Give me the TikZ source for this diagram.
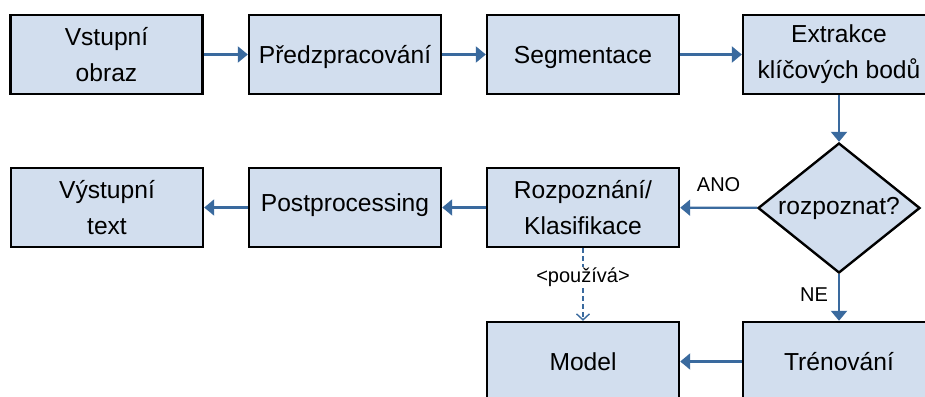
\documentclass[tikz,border=0pt]{standalone}
\usepackage{fontspec}
\setmainfont{Liberation Sans}
\usetikzlibrary{shapes.geometric,arrows.meta}
\definecolor{boxfill}{HTML}{D2DEEE}
\definecolor{arrblue}{HTML}{3A6A9E}
\begin{document}
\begin{tikzpicture}[x=1pt,y=-1pt,
  box/.style={draw=black, line width=2.4pt, fill=boxfill, minimum width=192pt, minimum height=79pt,
    inner sep=0pt, align=center, font=\fontsize{24.6}{36}\selectfont},
  one/.style={text height=17.6pt, text depth=0pt},
  dec/.style={diamond, draw=black, line width=2.4pt, fill=boxfill, minimum width=162pt,
    minimum height=130pt, aspect=1.246, inner sep=0pt, font=\fontsize{24.6}{36}\selectfont},
  arr/.style={draw=arrblue, line width=2.2pt, -{Triangle[length=10pt,width=16pt]}},
  dep/.style={draw=arrblue, line width=1.6pt, dash pattern=on 5pt off 3pt,
    -{Straight Barb[length=6pt,width=13pt,line width=1.4pt]}},
  lbl/.style={font=\fontsize{20}{24}\selectfont, inner sep=1pt}]
\useasboundingbox (0,0) rectangle (925,396);
\clip (0,0) rectangle (925,396);

\node[box] (in) at (106.5,54.5) {Vstupní\\obraz};
\node[box,one] (pre) at (345,54.5) {Předzpracování};
\node[box,one] (seg) at (583,54.5) {Segmentace};
\node[box] (ext) at (839,54.5) {Extrakce\\klíčových bodů};

\node[box] (out) at (107,207.5) {Výstupní\\text};
\node[box,one] (post) at (345,207.5) {\raisebox{5pt}{Postprocessing}};
\node[box] (rec) at (583,207.5) {Rozpoznání/\\Klasifikace};
\node[dec] (dia) at (839,208) {rozpoznat?};

\node[box,one] (model) at (583,361.5) {Model};
\node[box,one] (train) at (839,361.5) {Trénování};

\draw[arr] (in) -- (pre);
\draw[arr] (pre) -- (seg);
\draw[arr] (seg) -- (ext);
\draw[arr] (ext) -- (dia);
\draw[arr] (dia) -- node[lbl, midway, yshift=23pt] {ANO} (rec);
\draw[arr] (dia) -- node[lbl, midway, xshift=-25pt, yshift=3pt] {NE} (train);
\draw[arr] (rec) -- (post);
\draw[arr] (post) -- (out);
\draw[arr] (train) -- (model);
\draw[dep] (rec) -- node[lbl, fill=white, midway, yshift=7.5pt] {<používá>} (model);
\end{tikzpicture}
\end{document}
